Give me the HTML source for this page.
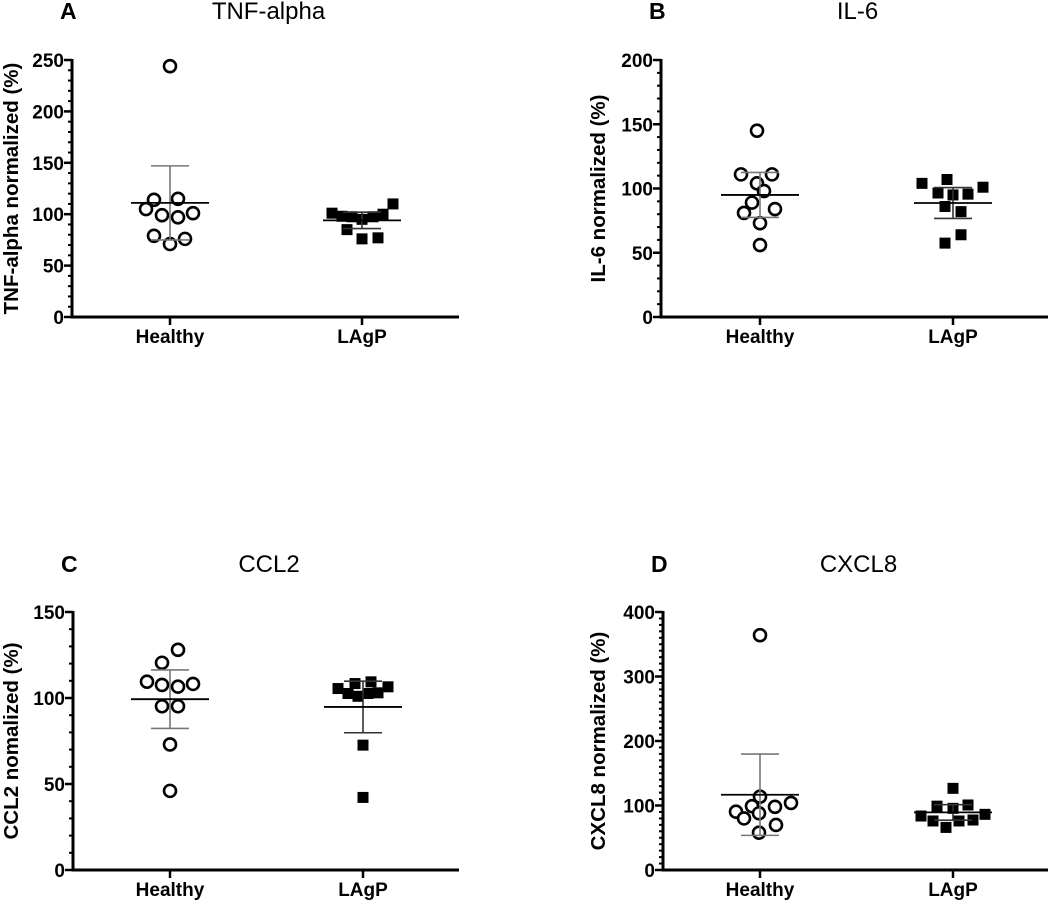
<!DOCTYPE html>
<html><head><meta charset="utf-8"><style>
html,body{margin:0;padding:0;background:#fff;}
svg{display:block;font-family:"Liberation Sans",Arial,sans-serif;}
</style></head><body>
<svg id="fig" width="1050" height="902" viewBox="0 0 1050 902" xmlns="http://www.w3.org/2000/svg"></svg>
<script>
const categories = ["Healthy","LAgP"];
// Panel A TNF-alpha
const tnfHealthy = [244,114,115,105,99,97,101,79,76,71];
const tnfHealthyJit = [0,-16,8,-24,-8,8,23,-16,15,0];
const tnfLagp = [101,98,97.5,95,97.5,100,110,85,76,77];
const tnfLagpJit = [-30,-20,-10,0,11,21,31,-15,0,16];
const tnfMean = [111,94];
const tnfSd = [36,8];
const tnfTicks = [0,50,100,150,200,250];
// Panel B IL-6
const il6Healthy = [145,111,111,104,98,89,81,84,73,56];
const il6HealthyJit = [-3,-19,12,-3,4,-8,-16,15,0,0];
const il6Lagp = [104,107,101,96.5,95,95.6,86,82,64,57.5];
const il6LagpJit = [-31,-6,30,-15,0,15,-8,8,8,-8];
const il6Mean = [95,88.7];
const il6Sd = [17.5,12];
const il6Ticks = [0,50,100,150,200];
// Panel C CCL2
const ccl2Healthy = [128,120.5,109.5,107.6,106.6,108.2,95.2,95.2,73,46];
const ccl2HealthyJit = [8,-8,-23,-8,8,23,-8,8,0,0];
const ccl2Lagp = [109.4,108.4,106.5,105.5,102.6,101,102.6,103,72.6,42.2];
const ccl2LagpJit = [8,-8,25,-25,-15,-5,5,15,0,0];
const ccl2Mean = [99.3,94.8];
const ccl2Sd = [17,15];
const ccl2Ticks = [0,50,100,150];
// Panel D CXCL8
const cxclHealthy = [364,113.7,99,98,104,90.4,80,88,69.8,57.9];
const cxclHealthyJit = [0,0,-8,15,31,-24,-16,-1,16,-1];
const cxclLagp = [126.6,99,95.6,100.8,83.7,86.3,76,76,77.5,66];
const cxclLagpJit = [0,-16,0,15,-32,32,-20,6,20,-7];
const cxclMean = [116.7,89.3];
const cxclSd = [63,12];
const cxclTicks = [0,100,200,300,400];

const NS="http://www.w3.org/2000/svg";
const svg=document.getElementById('fig');
function mk(tag,attrs,parent,text){const e=document.createElementNS(NS,tag);for(const k in attrs)e.setAttribute(k,attrs[k]);if(text!==undefined)e.textContent=text;(parent||svg).appendChild(e);return e;}

const panels=[
 {id:'a',letter:'A',title:'TNF-alpha',ylab:'TNF-alpha normalized (%)',x0:72,x1:459,y0:317,y1:60,yl:18,cx:[170,362],ticks:tnfTicks,h:tnfHealthy,hj:tnfHealthyJit,l:tnfLagp,lj:tnfLagpJit,mean:tnfMean,sd:tnfSd},
 {id:'b',letter:'B',title:'IL-6',ylab:'IL-6 normalized (%)',x0:661,x1:1048,y0:317,y1:60,yl:605,cx:[760,953],ticks:il6Ticks,h:il6Healthy,hj:il6HealthyJit,l:il6Lagp,lj:il6LagpJit,mean:il6Mean,sd:il6Sd},
 {id:'c',letter:'C',title:'CCL2',ylab:'CCL2 nomalized (%)',x0:73,x1:459,y0:870,y1:612,yl:18,cx:[170,363],ticks:ccl2Ticks,h:ccl2Healthy,hj:ccl2HealthyJit,l:ccl2Lagp,lj:ccl2LagpJit,mean:ccl2Mean,sd:ccl2Sd},
 {id:'d',letter:'D',title:'CXCL8',ylab:'CXCL8 normalized (%)',x0:663,x1:1048,y0:870,y1:612,yl:605,cx:[760,953],ticks:cxclTicks,h:cxclHealthy,hj:cxclHealthyJit,l:cxclLagp,lj:cxclLagpJit,mean:cxclMean,sd:cxclSd}
];

panels.forEach(p=>{
 const g=mk('g',{});
 
 
 const ymax=p.ticks[p.ticks.length-1];
 const ys=v=>p.y0-(v/ymax)*(p.y0-p.y1);
 const tb=p.y0-298;
 const lt=mk('text',{x:p.x0-12,y:tb,'font-size':23,'font-weight':'bold'},g,p.letter);
 
 
 const tt=mk('text',{x:(p.x0+p.x1)/2+3,y:tb,'font-size':24,'text-anchor':'middle'},g,p.title);
 
 
 const yt=mk('text',{x:0,y:0,'font-size':20.5,'font-weight':'bold','text-anchor':'middle',transform:`translate(${p.yl},${(p.y0+p.y1)/2}) rotate(-90)`},g,p.ylab);
 
 
 for(let v=0;v<=ymax;v+=10){
  const t=mk('line',{x1:p.x0-4,x2:p.x0,y1:ys(v),y2:ys(v),stroke:'#000','stroke-width':2},g);
  
  
 }
 p.ticks.forEach(v=>{
  const t=mk('line',{x1:p.x0-8,x2:p.x0,y1:ys(v),y2:ys(v),stroke:'#000','stroke-width':2.5},g);
  
  
  const l=mk('text',{x:p.x0-8,y:ys(v)+7,'font-size':19,'font-weight':'bold','text-anchor':'end'},g,String(v));
  
  
 });
 const ya=mk('line',{x1:p.x0,x2:p.x0,y1:p.y1-1,y2:p.y0+1.5,stroke:'#000','stroke-width':3},g);
 
 
 const xa=mk('line',{x1:p.x0-1.5,x2:p.x1,y1:p.y0,y2:p.y0,stroke:'#000','stroke-width':3},g);
 
 
 categories.forEach((c,i)=>{
  const t=mk('line',{x1:p.cx[i],x2:p.cx[i],y1:p.y0,y2:p.y0+8,stroke:'#000','stroke-width':2.5},g);
  
  
  const l=mk('text',{x:p.cx[i],y:p.y0+26,'font-size':19,'font-weight':'bold','text-anchor':'middle'},g,c);
  
  
 });
 p.h.forEach((v,i)=>{
  const c=mk('circle',{cx:p.cx[0]+p.hj[i],cy:ys(v),r:6,fill:'#fff',stroke:'#000','stroke-width':2.6},g);
  
  
 });
 p.l.forEach((v,i)=>{
  const s=mk('rect',{x:p.cx[1]+p.lj[i]-5.5,y:ys(v)-5.5,width:11,height:11,fill:'#000'},g);
  
  
 });
 [0,1].forEach(i=>{
  const cx=p.cx[i],m=p.mean[i],s=p.sd[i];
  const v=mk('line',{x1:cx,x2:cx,y1:ys(m+s),y2:ys(m-s),stroke:i?'#333':'#777','stroke-width':1.6},g);
  
  
  [m+s,m-s].forEach(e=>{
   const cap=mk('line',{x1:cx-19,x2:cx+19,y1:ys(e),y2:ys(e),stroke:i?'#333':'#777','stroke-width':1.6},g);
   
   
  });
  const ml=mk('line',{x1:cx-39,x2:cx+39,y1:ys(m),y2:ys(m),stroke:'#000','stroke-width':1.8},g);
  
  
 });
});
</script>
</body></html>
